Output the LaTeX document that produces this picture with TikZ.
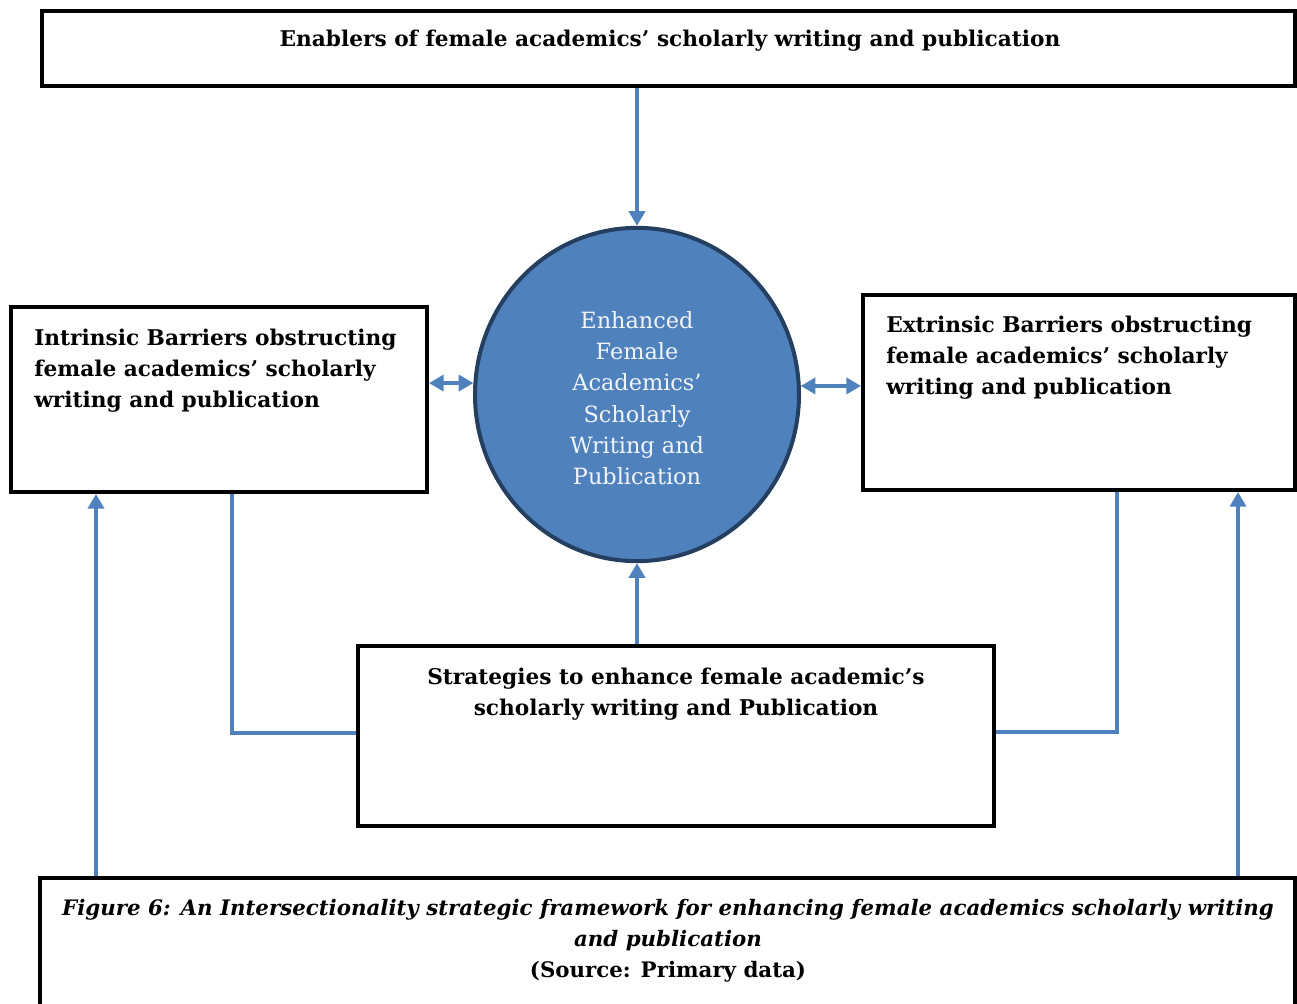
\documentclass[tikz,border=0pt]{standalone}
\usepackage{fontspec}
\setmainfont{DejaVu Serif}
\usepackage{tikz}
\usetikzlibrary{arrows.meta,shapes.geometric}
\usepackage{xcolor}
\definecolor{linkblue}{HTML}{4F81BD}
\definecolor{rimblue}{HTML}{243F60}

\tikzset{
  box/.style={draw=black,line width=3pt,rectangle,anchor=north west,inner sep=0pt},
  boxtext/.style={font=\bfseries\fontsize{16.25}{23.25}\selectfont,inner sep=0pt,align=left},
  link/.style={draw=linkblue,line width=3pt},
  arr/.style={link,-{Triangle[width=12pt,length=11pt]}},
  dbl/.style={link,{Triangle[width=12pt,length=11pt]}-{Triangle[width=12pt,length=11pt]}},
}

\begin{document}
\begin{tikzpicture}[x=0.75pt,y=-0.75pt]
\useasboundingbox (0,0) rectangle (1297,1004);
\node[box,minimum width=939.75pt,minimum height=56.25pt] (top) at (40,9) {};
\node[box,minimum width=312pt,minimum height=138.75pt] (lb) at (9,305) {};
\node[box,minimum width=324pt,minimum height=146.25pt] (rb) at (861,293) {};
\node[box,minimum width=477pt,minimum height=135pt] (mb) at (356,644) {};
\node[box,minimum width=941.25pt,minimum height=101.25pt] (cap) at (38,876) {};
\node[ellipse,fill=linkblue,draw=rimblue,line width=3pt,minimum width=243pt,minimum height=250pt,inner sep=0pt] (circ) at (637,394.5) {};

% texts
\node[boxtext,anchor=north] (toptxt) at (670,30) {Enablers of female academics’ scholarly writing and publication};
\node[boxtext,anchor=north west] (lbtxt) at (34,329) {Intrinsic Barriers obstructing\\female academics’ scholarly\\writing and publication};
\node[boxtext,anchor=north west] (rbtxt) at (886,316) {Extrinsic Barriers obstructing\\female academics’ scholarly\\writing and publication};
\node[boxtext,anchor=north,align=center] (mbtxt) at (676,668) {Strategies to enhance female academic’s\\scholarly writing and Publication};
\node[boxtext,anchor=center,align=center,font=\fontsize{16.8}{23.5}\selectfont,text=white!92!linkblue] (circtxt) at (637,398) {Enhanced\\Female\\Academics’\\Scholarly\\Writing and\\Publication};
\node[boxtext,anchor=north,align=center,font=\bfseries\fontsize{16}{23.25}\selectfont] (captxt) at (668,899) {\itshape Figure 6: An Intersectionality strategic framework for enhancing female academics scholarly writing\\\itshape and publication\\(Source: Primary data)};

% connectors
\coordinate (lbend) at (232,733);
\coordinate (rbend) at (1117,732);
\coordinate (lup) at (96,0);
\coordinate (rup) at (1238,0);
\draw[arr] (top.south -| circ.north) -- (circ.north);
\draw[arr] (mb.north -| circ.south) -- (circ.south);
\draw[dbl] (lb.east |- circ.176.5) -- (circ.176.5);
\draw[dbl] (circ.3.5) -- (rb.west |- circ.3.5);
\draw[link] (lb.south -| lbend) -- (lbend) -- (mb.west |- lbend);
\draw[link] (rb.south -| rbend) -- (rbend) -- (mb.east |- rbend);
\draw[arr] (cap.north -| lup) -- (lb.south -| lup);
\draw[arr] (cap.north -| rup) -- (rb.south -| rup);
\end{tikzpicture}
\end{document}
